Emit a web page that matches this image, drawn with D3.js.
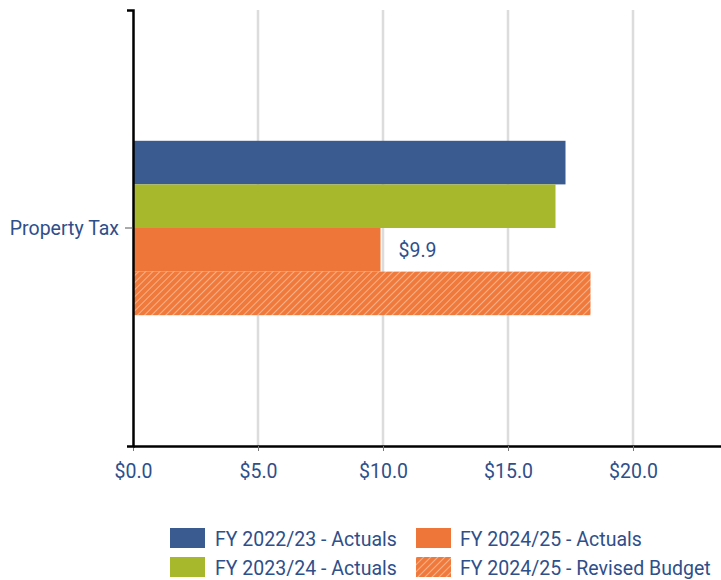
<!DOCTYPE html>
<html>
<head>
<meta charset="utf-8">
<script src="https://cdn.jsdelivr.net/npm/d3@7"></script>
<style>
  body { margin: 0; background: #fff; }
  text { font-family: Roboto, sans-serif; fill: #2f4f8a; }
</style>
</head>
<body>
<svg id="chart"></svg>
<script>
const width = 721, height = 580;

// data
const categories = ["Property Tax"];
const seriesNames = ["FY 2022/23 - Actuals", "FY 2023/24 - Actuals", "FY 2024/25 - Actuals", "FY 2024/25 - Revised Budget"];
const fy2223 = [17.3];
const fy2324 = [16.9];
const fy2425 = [9.9];
const fy2425Budget = [18.3];
const xTicks = [0, 5, 10, 15, 20];
const labelled = [false, false, true, false]; // only the actuals for 24/25 shows a label

const colors = ["#3a5b8f", "#a8b82d", "#ed7638", "url(#hatch)"];
const squeeze = 0.93; // condensed look, roboto squeezed horizontally
const fs = 21;

const margin = { left: 133, right: 0, top: 10, bottom: 134 };

const svg = d3.select("#chart").attr("width", width).attr("height", height);

const defs = svg.append("defs");
const pat = defs.append("pattern")
    .attr("id", "hatch")
    .attr("patternUnits", "userSpaceOnUse")
    .attr("width", 5).attr("height", 5)
    .attr("patternTransform", "rotate(45)");
pat.append("rect").attr("width", 5).attr("height", 5).attr("fill", "#f07a3c");
pat.append("line").attr("x1", 0).attr("y1", 0).attr("x2", 0).attr("y2", 5)
    .attr("stroke", "#f9bf9f").attr("stroke-width", 1.6);

const x = d3.scaleLinear().domain([0, 23.52]).range([margin.left, width - margin.right]);
const y = d3.scaleBand().domain(categories).range([margin.top, height - margin.bottom]);
const inner = d3.scaleBand().domain(d3.range(seriesNames.length)).range([0, y.bandwidth() * 0.4]);
const groupOffset = y.bandwidth() * 0.3;

// gridlines
svg.append("g").selectAll("line")
    .data(xTicks.slice(1))
    .join("line")
    .attr("x1", d => x(d)).attr("x2", d => x(d))
    .attr("y1", margin.top).attr("y2", height - margin.bottom)
    .attr("stroke", "#dcdcdc").attr("stroke-width", 2.5);

const series = [fy2223, fy2324, fy2425, fy2425Budget];

const groups = svg.append("g").selectAll("g")
    .data(categories)
    .join("g")
    .attr("transform", d => `translate(0,${y(d) + groupOffset})`);

groups.selectAll("rect")
    .data((d, ci) => series.map((s, si) => ({ si, v: s[ci] })))
    .join("rect")
    .attr("x", x(0))
    .attr("y", d => inner(d.si))
    .attr("width", d => x(d.v) - x(0))
    .attr("height", inner.bandwidth())
    .attr("fill", d => colors[d.si]);

groups.selectAll("text.val")
    .data((d, ci) => series.map((s, si) => ({ si, v: s[ci] })).filter(d => labelled[d.si]))
    .join("text")
    .attr("class", "val")
    .attr("transform", d => `translate(${x(d.v) + 18},${inner(d.si) + inner.bandwidth() / 2}) scale(${squeeze},1)`)
    .attr("dy", "0.35em")
    .attr("font-size", fs)
    .text(d => "$" + d3.format(".1f")(d.v));

// axes
const xAxis = svg.append("g")
    .attr("transform", `translate(0,${height - margin.bottom})`)
    .call(d3.axisBottom(x).tickValues(xTicks).tickFormat(d => "$" + d3.format(".1f")(d)).tickSize(5).tickSizeOuter(0));
xAxis.select(".domain").attr("stroke", "#000").attr("stroke-width", 2.5);
xAxis.selectAll(".tick line").attr("stroke", "#777");
xAxis.selectAll(".tick text").attr("font-size", fs).attr("dy", "1.15em").attr("fill", "#2f4f8a")
    .attr("transform", `scale(${squeeze},1)`);

const yAxis = svg.append("g")
    .attr("transform", `translate(${margin.left},0)`)
    .call(d3.axisLeft(y).tickSize(8).tickSizeOuter(6));
yAxis.select(".domain").attr("stroke", "#000").attr("stroke-width", 2.5);
yAxis.selectAll(".tick line").attr("stroke", "#555");
yAxis.selectAll(".tick text").attr("font-size", fs).attr("x", -14 / squeeze).attr("fill", "#2f4f8a")
    .attr("transform", `scale(${squeeze},1)`);

// legend
const legendItems = [0, 2, 1, 3];
const legend = svg.append("g").selectAll("g")
    .data(legendItems)
    .join("g")
    .attr("transform", (d, i) => `translate(${170 + (i % 2) * 246},${528 + Math.floor(i / 2) * 29})`);
legend.append("rect").attr("width", 35).attr("height", 20).attr("fill", d => colors[d]);
legend.append("text")
    .attr("transform", (d, i) => `translate(${i % 2 ? 44 : 45},10) scale(${squeeze},1)`)
    .attr("dy", "0.36em")
    .attr("font-size", fs)
    .text(d => seriesNames[d]);
</script>
</body>
</html>
